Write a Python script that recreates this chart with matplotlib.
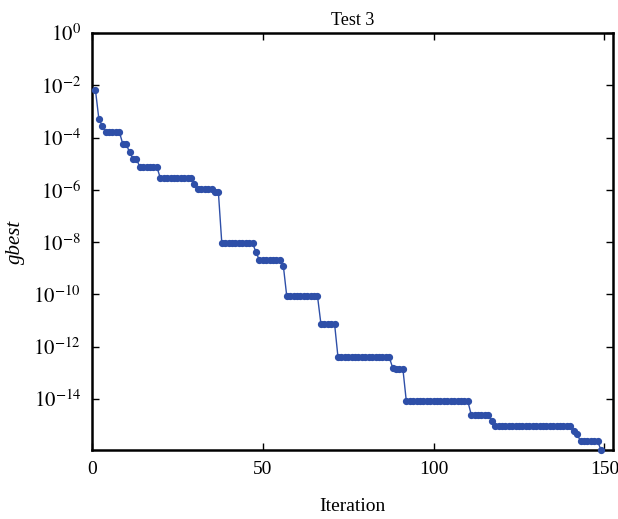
import numpy as np
import matplotlib
matplotlib.use("Agg")
import matplotlib.pyplot as plt
from matplotlib.ticker import FixedLocator, FuncFormatter

plt.rcParams['font.family'] = ['Liberation Serif', 'DejaVu Serif']
plt.rcParams['mathtext.fontset'] = 'stix'

# (start iteration, end iteration, log10 gbest)
seg_start = [1, 2, 3, 4, 9, 11, 12, 14, 20, 30, 31, 36, 38, 48, 49, 56, 57, 67, 72, 88, 89, 92, 111, 117, 118, 141, 142, 143, 149]
seg_end   = [1, 2, 3, 8, 10, 11, 13, 19, 29, 30, 35, 37, 47, 48, 55, 56, 66, 71, 87, 88, 91, 110, 116, 117, 140, 141, 142, 148, 149]
seg_log   = [-2.17, -3.28, -3.56, -3.78, -4.24, -4.57, -4.81, -5.13, -5.55, -5.76, -5.96, -6.10,
             -8.05, -8.38, -8.70, -8.90, -10.06, -11.12, -12.40, -12.80, -12.85, -14.08, -14.60,
             -14.83, -15.02, -15.22, -15.35, -15.62, -15.95]

iters = []
gbest = []
for s, e, v in zip(seg_start, seg_end, seg_log):
    for i in range(s, e + 1):
        iters.append(i)
        gbest.append(10.0 ** v)
iters = np.array(iters)
gbest = np.array(gbest)

x_ticks = [0, 50, 100, 150]
y_exps = [0, -2, -4, -6, -8, -10, -12, -14]

fig = plt.figure(figsize=(6.18, 5.19), dpi=100)
ax = fig.add_axes([92/618, (519-450)/519, (613-92)/618, (450-33)/519])
ax.plot(iters, gbest, '-o', color='#2E4FA8', lw=1.0, ms=4.2, mec='#2E4FA8', clip_on=False, zorder=3)
ax.set_yscale('log')
ax.set_xlim(0, 152.5)
ax.set_ylim(gbest.min(), 1.0)
ax.xaxis.set_major_locator(FixedLocator(x_ticks))
ax.yaxis.set_major_locator(FixedLocator([10.0 ** e for e in y_exps]))
ax.yaxis.set_minor_locator(FixedLocator([]))
ax.yaxis.set_major_formatter(FuncFormatter(lambda v, p: r'$10^{%d}$' % int(round(np.log10(v)))))
ax.tick_params(direction='in', top=True, right=True, length=5, width=1, pad=8)
ax.tick_params(axis='y', labelsize=15)
ax.tick_params(axis='x', labelsize=14)
ax.tick_params(axis='y', which='minor', left=False, right=False)
for sp in ax.spines.values():
    sp.set_linewidth(1.8)
ax.set_title('Test 3', fontsize=13, pad=6)
ax.set_xlabel('Iteration', fontsize=14, labelpad=14)
ax.set_ylabel('gbest', fontsize=15, style='italic', labelpad=6)
fig.savefig('out.png', dpi=100)
